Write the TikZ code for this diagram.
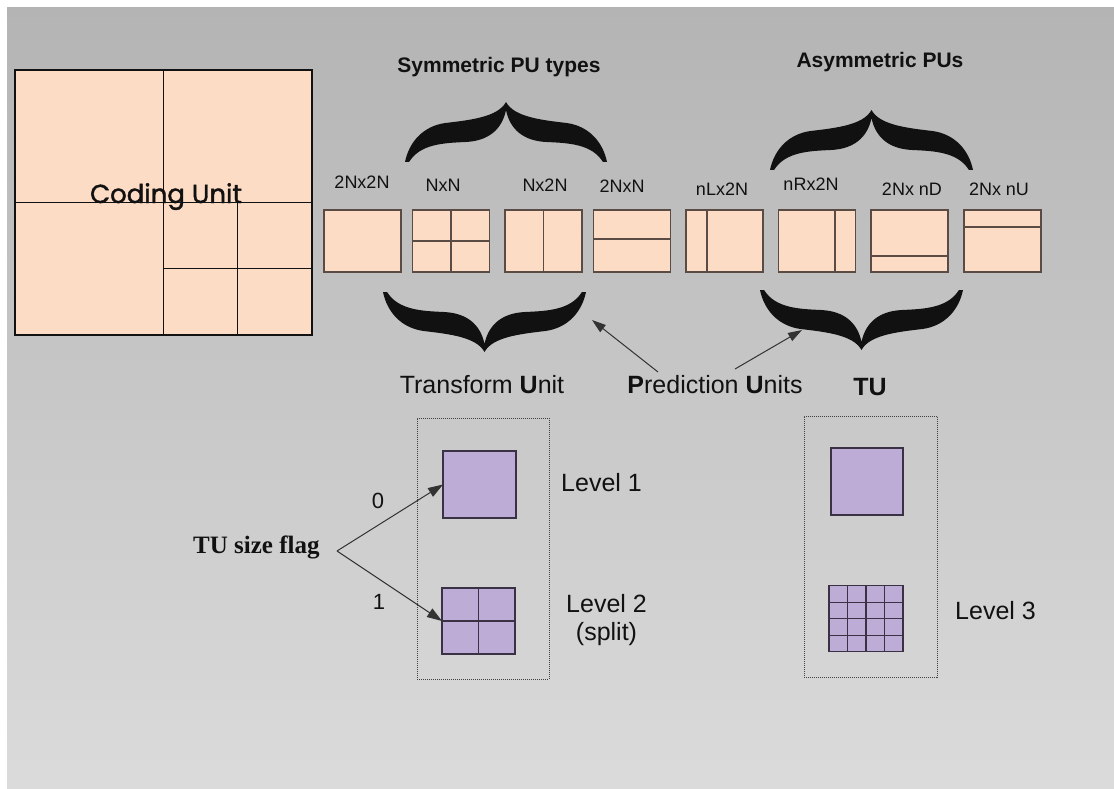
\documentclass[tikz,border=0pt]{standalone}
\usepackage{fontspec}
\setmainfont{Liberation Sans}
\newfontfamily\flagfont{Liberation Serif}
\newfontfamily\cufont[FakeBold=1.6]{Poppins}
\usetikzlibrary{arrows.meta,calc}

\definecolor{peach}{HTML}{FDDCC5}
\definecolor{lilac}{HTML}{BDADD6}
\definecolor{bgtop}{HTML}{B4B4B4}
\definecolor{bgbot}{HTML}{DBDBDB}
\definecolor{puedge}{HTML}{5A4C44}
\definecolor{tuedge}{HTML}{3A3244}
\definecolor{ink}{HTML}{111111}
\definecolor{arrowgray}{HTML}{333333}

% thick calligraphic curly brace; local frame: ends at (0,0) and (200,0), tip at (100,-60)
\newcommand\bigbrace[4]{%
  \fill[ink, shift={(#1,#2)}, xscale=#3, yscale=#4]
    (0,0) .. controls (4,-20) and (18,-36) .. (40,-39)
          .. controls (65,-42) and (92,-45) .. (100,-60)
          .. controls (108,-45) and (135,-42) .. (160,-39)
          .. controls (182,-36) and (196,-20) .. (200,0)
    -- (196,0) .. controls (185,-18) and (162,-19) .. (140,-20)
          .. controls (118,-21) and (104,-32) .. (100,-52)
          .. controls (96,-32) and (82,-21) .. (60,-20)
          .. controls (38,-19) and (15,-18) .. (4,0) -- cycle;}

\begin{document}
\begin{tikzpicture}[x=1pt,y=-1pt,
  cubox/.style={draw=ink, line width=1.3pt, fill=peach, minimum width=297pt,
    minimum height=265pt, inner sep=0pt, outer sep=0pt},
  pubox/.style={draw=puedge, line width=1.6pt, fill=peach, minimum width=77pt,
    minimum height=62pt, inner sep=0pt, outer sep=0pt},
  puline/.style={draw=puedge, line width=1.6pt},
  tubox/.style={draw=tuedge, line width=1.4pt, fill=lilac, inner sep=0pt, outer sep=0pt},
  tuline/.style={draw=tuedge, line width=1.3pt},
  groupbox/.style={draw=black!75, line width=0.9pt, dash pattern=on 1pt off 1pt,
    inner sep=0pt, outer sep=0pt},
  pulabel/.style={text=ink, font=\fontsize{18}{20}\selectfont, inner sep=0pt, anchor=base},
  title/.style={text=ink, font=\bfseries\fontsize{21}{23}\selectfont, inner sep=0pt, anchor=base},
  biglabel/.style={text=ink, font=\fontsize{25}{28}\selectfont, inner sep=0pt},
  pointer/.style={draw=arrowgray, line width=1pt, -{Triangle[length=14pt,width=9pt]}},
]
% page and background
\fill[white] (0,0) rectangle (1114,789);
\shade[top color=bgtop, bottom color=bgbot] (7,8) rectangle (1114,789);

% coding unit quadtree
\node[cubox] (cu) at (163.5,202.5) {};
\draw[ink, line width=1.3pt] (cu.north) -- (cu.south);
\draw[ink, line width=1.3pt] (cu.west) -- (cu.east);
\draw[ink, line width=1.3pt] ($(cu.center)!.5!(cu.east)$) -- ($(cu.south)!.5!(cu.south east)$);
\draw[ink, line width=1.3pt] ($(cu.center)!.5!(cu.south)$) -- ($(cu.east)!.5!(cu.south east)$);
\node[anchor=base, text=ink, inner sep=0pt, font=\cufont\fontsize{26}{28}\selectfont] (cutext) at (166,203) {Coding Unit};

% group titles
\node[title] (symtitle) at (499,73) {Symmetric PU types};
\node[title] (asymtitle) at (880,68) {Asymmetric PUs};

% prediction unit partitions
\node[pubox] (b1) at (362.5,241) {};
\node[pubox] (b2) at (451,241) {};
\node[pubox] (b3) at (543.3,241) {};
\node[pubox] (b4) at (632,241) {};
\node[pubox] (b5) at (724.5,241) {};
\node[pubox] (b6) at (817,241) {};
\node[pubox] (b7) at (909.5,241) {};
\node[pubox] (b8) at (1002.5,241) {};

\draw[puline] (b2.north) -- (b2.south);
\draw[puline] (b2.west) -- (b2.east);
\draw[puline] (b3.north) -- (b3.south);
\draw[puline] ($(b4.north west)!.47!(b4.south west)$) -- ($(b4.north east)!.47!(b4.south east)$);
\draw[puline] ($(b5.north west)!.27!(b5.north east)$) -- ($(b5.south west)!.27!(b5.south east)$);
\draw[puline] ($(b6.north west)!.73!(b6.north east)$) -- ($(b6.south west)!.73!(b6.south east)$);
\draw[puline] ($(b7.north west)!.74!(b7.south west)$) -- ($(b7.north east)!.74!(b7.south east)$);
\draw[puline] ($(b8.north west)!.27!(b8.south west)$) -- ($(b8.north east)!.27!(b8.south east)$);

\node[pulabel] (t1) at (362,188) {2Nx2N};
\node[pulabel] (t2) at (443,192) {NxN};
\node[pulabel] (t3) at (545,192) {Nx2N};
\node[pulabel] (t4) at (622,193) {2NxN};
\node[pulabel] (t5) at (722,195) {nLx2N};
\node[pulabel] (t6) at (811,190) {nRx2N};
\node[pulabel] (t7) at (912,195) {2Nx nD};
\node[pulabel] (t8) at (999,196) {2Nx nU};

% braces
\bigbrace{405}{162}{1.01}{1}
\bigbrace{383}{292}{1.015}{-1}
\bigbrace{770}{170}{1.015}{1}
\bigbrace{760}{290}{1.015}{-1}

% captions under the partitions
\node[biglabel, anchor=base] (tucap) at (482,393) {Transform \textbf{U}nit};
\node[biglabel, anchor=base] (pucap) at (715,393) {\textbf{P}rediction \textbf{U}nits};
\node[biglabel, anchor=base, font=\bfseries\fontsize{25}{28}\selectfont] (tushort) at (870,395) {TU};

\coordinate (pa1) at (658,372);
\coordinate (pt1) at (592,320);
\coordinate (pa2) at (735,369);
\coordinate (pt2) at (802,330);
\draw[pointer] (pa1) -- (pt1);
\draw[pointer] (pa2) -- (pt2);

% transform unit levels
\node[groupbox, minimum width=132pt, minimum height=261pt] (gl) at (483,548.5) {};
\node[groupbox, minimum width=133pt, minimum height=261pt] (gr) at (870.5,546.5) {};

\node[tubox, minimum width=73pt, minimum height=67pt] (l1) at (479.5,484.5) {};
\node[tubox, minimum width=73pt, minimum height=66pt] (l2) at (478.5,621) {};
\draw[tuline] (l2.north) -- (l2.south);
\draw[tuline] (l2.west) -- (l2.east);

\node[tubox, minimum width=72pt, minimum height=67pt] (r1) at (867,481.5) {};
\node[tubox, minimum width=74pt, minimum height=66pt] (r2) at (866,618.7) {};
\foreach \f in {0.25,0.5,0.75}{
  \draw[tuline] ($(r2.north west)!\f!(r2.north east)$) -- ($(r2.south west)!\f!(r2.south east)$);
  \draw[tuline] ($(r2.north west)!\f!(r2.south west)$) -- ($(r2.north east)!\f!(r2.south east)$);
}

\node[biglabel, anchor=base west] (lev1) at (561,491) {Level 1};
\node[biglabel, anchor=base west] (lev2) at (566,612) {Level 2};
\node[biglabel, anchor=base] (split) at (606.5,640) {(split)};
\node[biglabel, anchor=base west] (lev3) at (955,619) {Level 3};

% size flag
\node[anchor=base west, text=ink, inner sep=0pt,
  font=\flagfont\bfseries\fontsize{25}{27}\selectfont] (flag) at (193,553) {TU size flag};
\coordinate (fl) at (337,551);
\draw[pointer, -{Triangle[length=15pt,width=10pt]}] (fl) -- (l1.west);
\draw[pointer, -{Triangle[length=15pt,width=10pt]}] (fl) -- (l2.west);
\node[biglabel, anchor=base, font=\fontsize{22}{24}\selectfont] (zero) at (378,508) {0};
\node[biglabel, anchor=base, font=\fontsize{22}{24}\selectfont] (one) at (379,609) {1};
\end{tikzpicture}
\end{document}
